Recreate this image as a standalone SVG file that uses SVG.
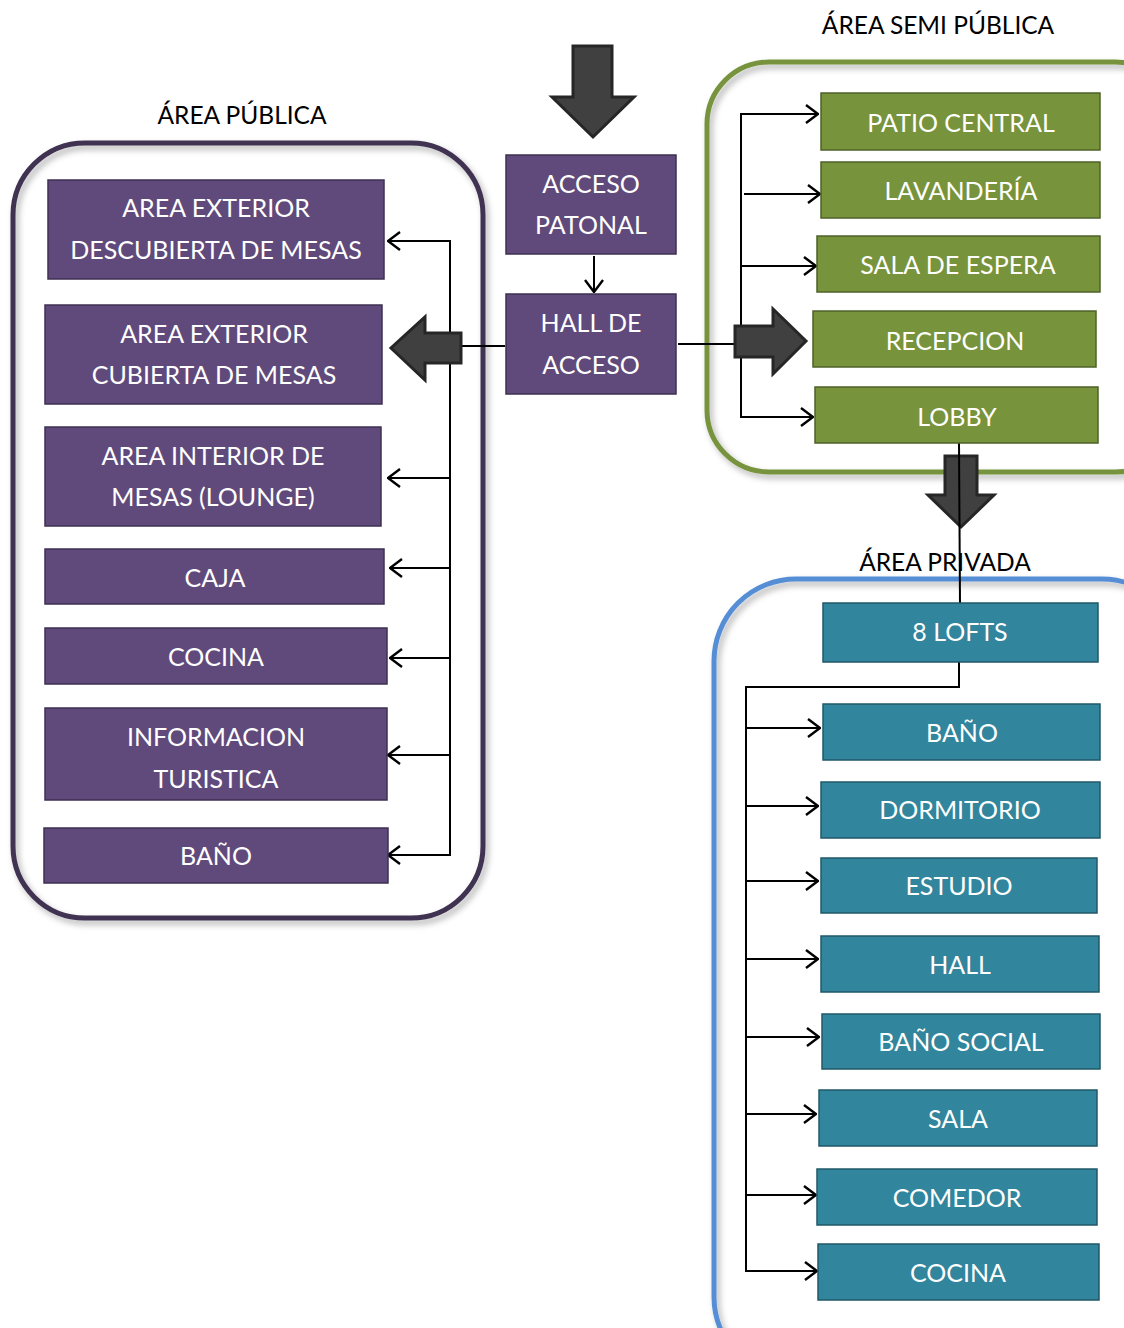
<svg xmlns="http://www.w3.org/2000/svg" width="1124" height="1328" viewBox="0 0 1124 1328">
<defs>
<style>
.t{font-family:Lato,"Open Sans","Liberation Sans",sans-serif;font-size:25px;fill:#ffffff;text-anchor:middle;dominant-baseline:central}
.title{font-family:Lato,"Open Sans","Liberation Sans",sans-serif;font-size:24.5px;fill:#000000;text-anchor:middle;dominant-baseline:central}
.pu{fill:#604a7b;stroke:#3f3151;stroke-width:1.5}
.gr{fill:#77933c;stroke:#4f6228;stroke-width:1.5}
.te{fill:#31859c;stroke:#215968;stroke-width:1.5}
.ln{fill:none;stroke:#000000;stroke-width:2}
.ar{fill:none;stroke:#000000;stroke-width:2;marker-end:url(#oa)}
.big{fill:#404040;stroke:#262626;stroke-width:3;stroke-linejoin:miter}
</style>
<marker id="oa" viewBox="0 0 14 20" refX="13" refY="10" markerWidth="14" markerHeight="20" markerUnits="userSpaceOnUse" orient="auto">
<path d="M1,1 L13,10 L1,19" fill="none" stroke="#000000" stroke-width="2.4"/>
</marker>
<filter id="sh" x="-10%" y="-10%" width="120%" height="120%">
<feDropShadow dx="3" dy="4" stdDeviation="3" flood-color="#000000" flood-opacity="0.3"/>
</filter>
</defs>

<g id="containers">
<rect id="area-publica" x="13" y="143" width="470" height="775" rx="72" fill="none" stroke="#3f3151" stroke-width="5" filter="url(#sh)"/>
<rect id="area-semi" x="707" y="62" width="470" height="410" rx="62" fill="none" stroke="#77933c" stroke-width="5" filter="url(#sh)"/>
<rect id="area-privada" x="714" y="579" width="470" height="800" rx="82" fill="none" stroke="#558ed5" stroke-width="5" filter="url(#sh)"/>
<text class="title" x="242" y="114">ÁREA PÚBLICA</text>
<text class="title" x="938" y="24">ÁREA SEMI PÚBLICA</text>
<text class="title" x="945" y="561">ÁREA PRIVADA</text>
</g>

<g id="connectors">
<path class="big" d="M573,46 L612,46 L612,97 L634,97 L593,137 L552,97 L573,97 Z"/>
<line class="ar" x1="594" y1="256" x2="594" y2="292"/>
<line class="ln" x1="505" y1="346" x2="460" y2="346"/>
<path class="ln" d="M450,855 L450,241"/>
<line class="ar" x1="451" y1="241" x2="388" y2="241"/>
<line class="ar" x1="451" y1="478" x2="388" y2="478"/>
<line class="ar" x1="451" y1="568" x2="390" y2="568"/>
<line class="ar" x1="451" y1="658" x2="390" y2="658"/>
<line class="ar" x1="451" y1="755" x2="388" y2="755"/>
<line class="ar" x1="451" y1="855" x2="388" y2="855"/>
<path class="big" d="M461,333 L461,363 L425,363 L425,380 L391,348 L425,317 L425,333 Z"/>
<line class="ln" x1="678" y1="344" x2="736" y2="344"/>
<path class="ln" d="M741,114 L741,417"/>
<line class="ar" x1="740" y1="114" x2="818" y2="114"/>
<line class="ar" x1="744" y1="194" x2="820" y2="194"/>
<line class="ar" x1="740" y1="266" x2="816" y2="266"/>
<line class="ar" x1="740" y1="417" x2="813" y2="417"/>
<path class="big" d="M735,326 L773,326 L773,309 L806,341 L773,374 L773,357 L735,357 Z"/>
<path class="big" d="M945,456 L977,456 L977,495 L994,495 L961,527 L928,495 L945,495 Z"/>
<line class="ln" x1="959" y1="443" x2="960" y2="604"/>
<path class="ln" d="M959,662 L959,687 L746,687 L746,1271"/>
<line class="ar" x1="745" y1="728" x2="820" y2="728"/>
<line class="ar" x1="745" y1="806" x2="818" y2="806"/>
<line class="ar" x1="745" y1="881" x2="818" y2="881"/>
<line class="ar" x1="745" y1="959" x2="818" y2="959"/>
<line class="ar" x1="745" y1="1037" x2="819" y2="1037"/>
<line class="ar" x1="745" y1="1114" x2="816" y2="1114"/>
<line class="ar" x1="745" y1="1195" x2="816" y2="1195"/>
<line class="ar" x1="745" y1="1271" x2="817" y2="1271"/>
</g>

<g id="acceso-patonal"><rect class="pu" x="506" y="155" width="170" height="99"/><text class="t" x="591" y="183">ACCESO</text><text class="t" x="591" y="224">PATONAL</text></g>
<g id="hall-de-acceso"><rect class="pu" x="506" y="294" width="170" height="100"/><text class="t" x="591" y="322">HALL DE</text><text class="t" x="591" y="364">ACCESO</text></g>

<g id="p1"><rect class="pu" x="48" y="180" width="336" height="99"/><text class="t" x="216" y="207">AREA EXTERIOR</text><text class="t" x="216" y="249">DESCUBIERTA DE MESAS</text></g>
<g id="p2"><rect class="pu" x="45" y="305" width="337" height="99"/><text class="t" x="214" y="333">AREA EXTERIOR</text><text class="t" x="214" y="374">CUBIERTA DE MESAS</text></g>
<g id="p3"><rect class="pu" x="45" y="427" width="336" height="99"/><text class="t" x="213" y="455">AREA INTERIOR DE</text><text class="t" x="213" y="496">MESAS (LOUNGE)</text></g>
<g id="p4"><rect class="pu" x="45" y="549" width="339" height="55"/><text class="t" x="215" y="577">CAJA</text></g>
<g id="p5"><rect class="pu" x="45" y="628" width="342" height="56"/><text class="t" x="216" y="656">COCINA</text></g>
<g id="p6"><rect class="pu" x="45" y="708" width="342" height="92"/><text class="t" x="216" y="736">INFORMACION</text><text class="t" x="216" y="778">TURISTICA</text></g>
<g id="p7"><rect class="pu" x="44" y="828" width="344" height="55"/><text class="t" x="216" y="855">BAÑO</text></g>

<g id="s1"><rect class="gr" x="821" y="93" width="279" height="57"/><text class="t" x="961" y="122">PATIO CENTRAL</text></g>
<g id="s2"><rect class="gr" x="821" y="162" width="279" height="56"/><text class="t" x="961" y="190">LAVANDERÍA</text></g>
<g id="s3"><rect class="gr" x="817" y="236" width="283" height="56"/><text class="t" x="958" y="264">SALA DE ESPERA</text></g>
<g id="s4"><rect class="gr" x="813" y="311" width="283" height="56"/><text class="t" x="955" y="340">RECEPCION</text></g>
<g id="s5"><rect class="gr" x="815" y="387" width="283" height="56"/><text class="t" x="957" y="416">LOBBY</text></g>

<g id="v0"><rect class="te" x="823" y="603" width="275" height="59"/><text class="t" x="960" y="631">8 LOFTS</text></g>
<g id="v1"><rect class="te" x="823" y="704" width="277" height="56"/><text class="t" x="962" y="732">BAÑO</text></g>
<g id="v2"><rect class="te" x="821" y="782" width="279" height="56"/><text class="t" x="960" y="809">DORMITORIO</text></g>
<g id="v3"><rect class="te" x="821" y="858" width="276" height="55"/><text class="t" x="959" y="885">ESTUDIO</text></g>
<g id="v4"><rect class="te" x="821" y="936" width="278" height="56"/><text class="t" x="960" y="964">HALL</text></g>
<g id="v5"><rect class="te" x="822" y="1014" width="278" height="55"/><text class="t" x="961" y="1041">BAÑO SOCIAL</text></g>
<g id="v6"><rect class="te" x="819" y="1090" width="278" height="56"/><text class="t" x="958" y="1118">SALA</text></g>
<g id="v7"><rect class="te" x="817" y="1169" width="280" height="56"/><text class="t" x="957" y="1197">COMEDOR</text></g>
<g id="v8"><rect class="te" x="818" y="1244" width="281" height="56"/><text class="t" x="958" y="1272">COCINA</text></g>
</svg>
